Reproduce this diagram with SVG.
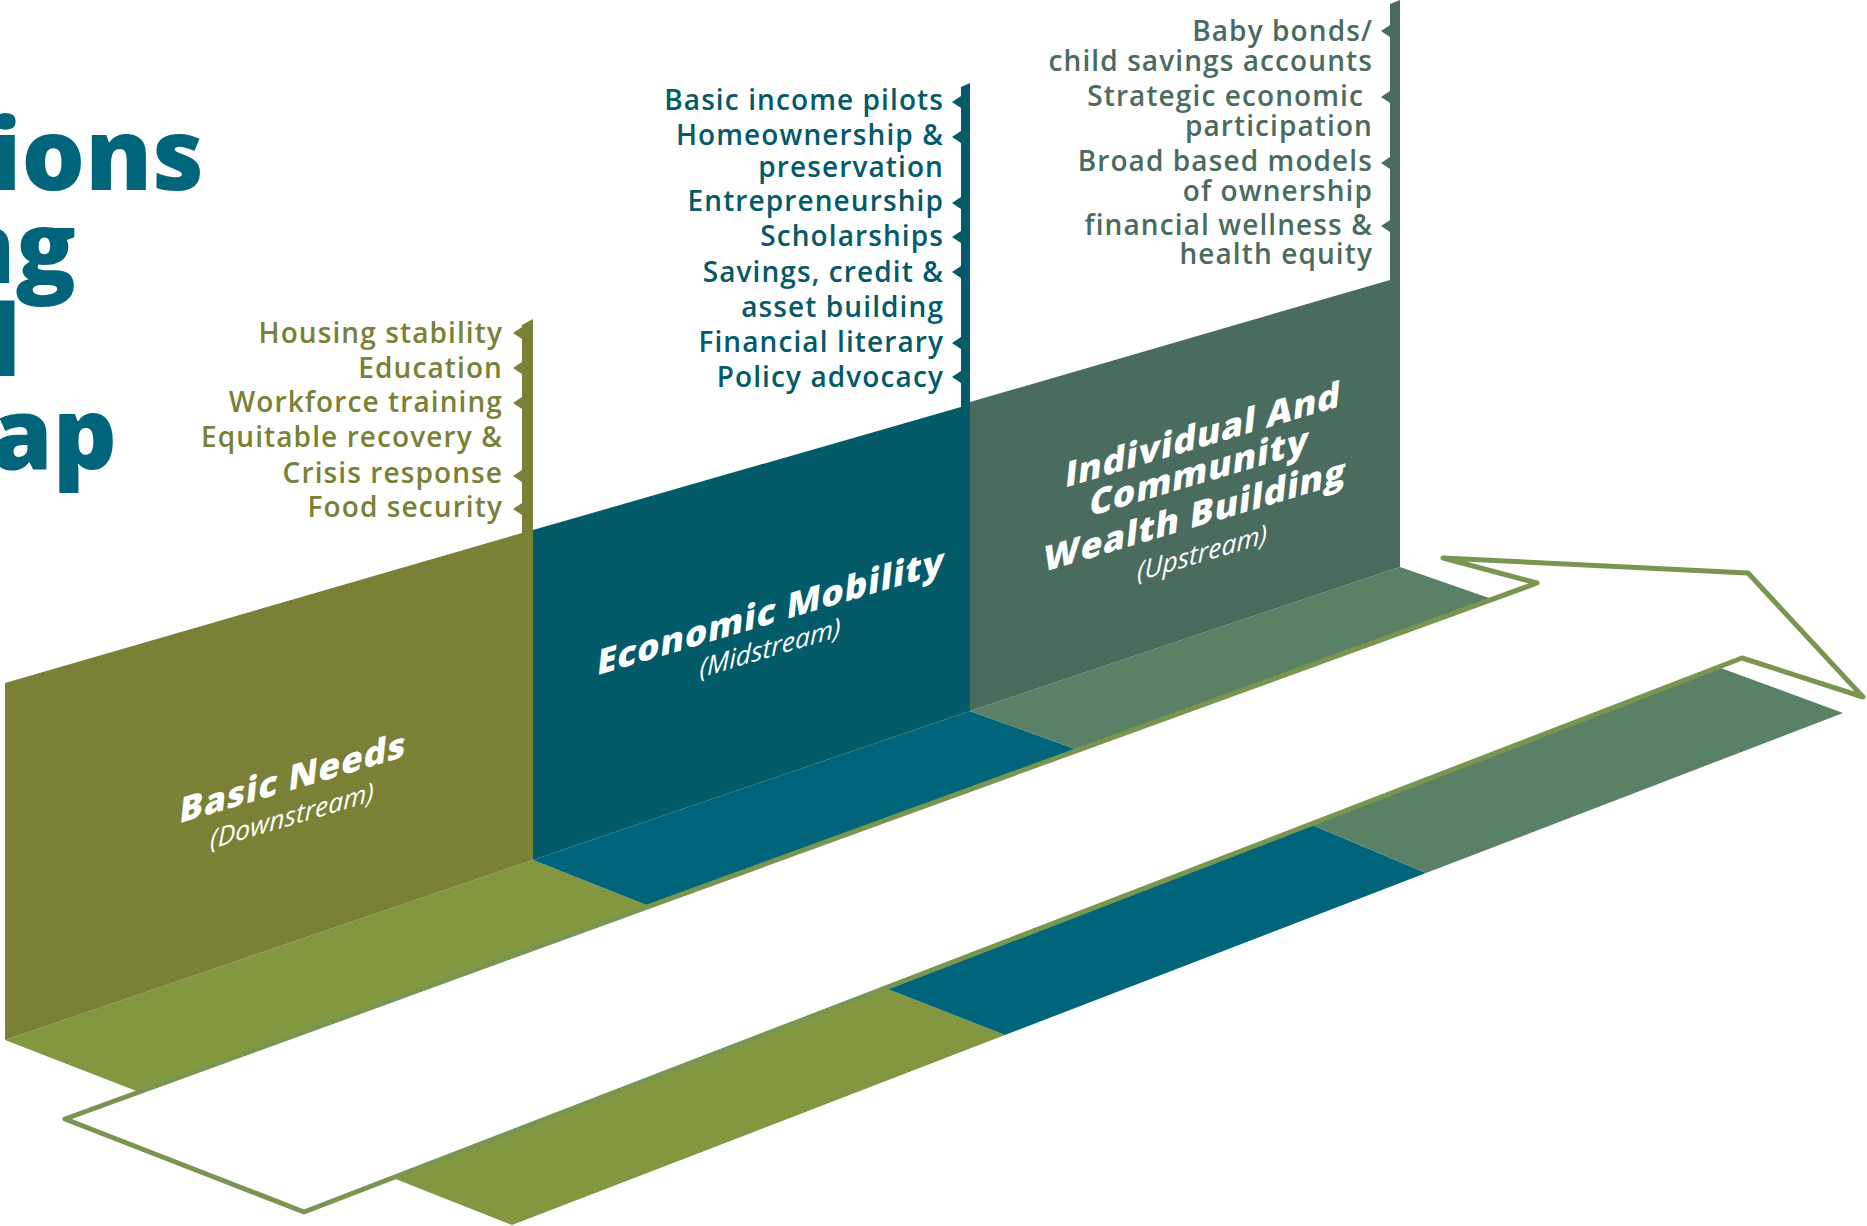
<svg xmlns="http://www.w3.org/2000/svg" xmlns:xlink="http://www.w3.org/1999/xlink" width="1867" height="1226" viewBox="0 0 1867 1226">
<style>
.title{font-family:"Open Sans","Liberation Sans",sans-serif;font-weight:800;font-size:100px;fill:#00647a;text-anchor:end}
.item{font-family:"Open Sans","Liberation Sans",sans-serif;font-size:28px;font-weight:600;letter-spacing:1.1px;text-anchor:end}
.label{font-family:"Open Sans","Liberation Sans",sans-serif;font-weight:800;font-size:35px;letter-spacing:1px;fill:#ffffff;text-anchor:middle}
.sub{font-family:"Open Sans","Liberation Sans",sans-serif;font-style:italic;font-weight:400;font-size:26.5px;fill:#ffffff;text-anchor:middle}
.bn{fill:#7a8035}
.bnf{fill:#839640}
.em{fill:#035a68}
.emf{fill:#00647a}
.wb{fill:#4a6c5e}
.wbf{fill:#5a8066}
.arrow{fill:none;stroke:#78964f;stroke-width:5;stroke-linejoin:round}
</style>
<defs>
<path id="tick" d="M0,0 L9,-6 L9,6 Z"/>
</defs>
<rect width="1867" height="1226" fill="#ffffff"/>

<g id="title">
<text class="title" x="204" y="190">ions</text>
<text class="title" x="76" y="283">ng</text>
<text class="title" x="21" y="376">l</text>
<text class="title" x="117" y="469">ap</text>
</g>

<g id="arrow-shadow">
<path class="bnf" d="M393,1178 L885,988 L1005,1035 L512,1225 Z"/>
<path class="emf" d="M885,988 L1310,824 L1426,873 L1005,1035 Z"/>
<path class="wbf" d="M1310,824 L1718,667 L1843,713 L1426,873 Z"/>
</g>

<g id="node-basic-needs">
<path class="bnf" d="M5,1040 L533,860 L649,906 L139,1092 Z"/>
<path class="bn" d="M5,683 L522,533 L522,325 L533,319 L533,860 L5,1040 Z"/>
<use xlink:href="#tick" class="bn" x="513" y="333"/>
<use xlink:href="#tick" class="bn" x="513" y="368"/>
<use xlink:href="#tick" class="bn" x="513" y="403"/>
<use xlink:href="#tick" class="bn" x="513" y="476"/>
<use xlink:href="#tick" class="bn" x="513" y="509"/>
<text class="item bn" x="503" y="343">Housing stability</text>
<text class="item bn" x="503" y="378">Education</text>
<text class="item bn" x="503" y="412">Workforce training</text>
<text class="item bn" x="503" y="447">Equitable recovery &amp;</text>
<text class="item bn" x="503" y="483">Crisis response</text>
<text class="item bn" x="503" y="517">Food security</text>
<g transform="translate(292,790) skewY(-16.5)">
<text class="label" transform="skewX(-6)">Basic Needs</text>
<text class="sub" y="35">(Downstream)</text>
</g>
</g>

<g id="node-economic-mobility">
<path class="emf" d="M533,860 L970,711 L1078,750 L649,906 Z"/>
<path class="em" d="M533,530 L961,407 L961,87 L970,83 L970,711 L533,860 Z"/>
<use xlink:href="#tick" class="em" x="952" y="102"/>
<use xlink:href="#tick" class="em" x="952" y="137"/>
<use xlink:href="#tick" class="em" x="952" y="203"/>
<use xlink:href="#tick" class="em" x="952" y="237"/>
<use xlink:href="#tick" class="em" x="952" y="272"/>
<use xlink:href="#tick" class="em" x="952" y="343"/>
<use xlink:href="#tick" class="em" x="952" y="377"/>
<text class="item em" x="944" y="110">Basic income pilots</text>
<text class="item em" x="944" y="145">Homeownership &amp;</text>
<text class="item em" x="944" y="177">preservation</text>
<text class="item em" x="944" y="211">Entrepreneurship</text>
<text class="item em" x="944" y="246">Scholarships</text>
<text class="item em" x="944" y="282">Savings, credit &amp;</text>
<text class="item em" x="944" y="317">asset building</text>
<text class="item em" x="944" y="352">Financial literary</text>
<text class="item em" x="944" y="387">Policy advocacy</text>
<g transform="translate(770,624) skewY(-16.5)">
<text class="label" transform="skewX(-6)">Economic Mobility</text>
<text class="sub" y="33">(Midstream)</text>
</g>
</g>

<g id="node-wealth-building">
<path class="wbf" d="M970,711 L1400,567 L1492,599 L1078,750 Z"/>
<path class="wb" d="M970,402 L1390,280 L1390,4 L1400,0 L1400,567 L970,711 Z"/>
<use xlink:href="#tick" class="wb" x="1381" y="31"/>
<use xlink:href="#tick" class="wb" x="1381" y="97"/>
<use xlink:href="#tick" class="wb" x="1381" y="163"/>
<use xlink:href="#tick" class="wb" x="1381" y="226"/>
<text class="item wb" x="1373" y="41">Baby bonds/</text>
<text class="item wb" x="1373" y="71">child savings accounts</text>
<text class="item wb" x="1364" y="106">Strategic economic</text>
<text class="item wb" x="1373" y="136">participation</text>
<text class="item wb" x="1373" y="171">Broad based models</text>
<text class="item wb" x="1373" y="201">of ownership</text>
<text class="item wb" x="1373" y="235">financial wellness &amp;</text>
<text class="item wb" x="1373" y="264">health equity</text>
<g transform="translate(1202,447) skewY(-16.5)">
<text class="label" transform="skewX(-6)">Individual And</text>
<text class="label" y="36" transform="skewX(-6)">Community</text>
<text class="label" y="78" transform="skewX(-6)">Wealth Building</text>
<text class="sub" y="115">(Upstream)</text>
</g>
</g>

<g id="connectors">
<path class="arrow" d="M65,1119 L1537,583 L1443,558 L1748,573 L1863,697 L1742,658 L304,1212 Z"/>
</g>
</svg>
